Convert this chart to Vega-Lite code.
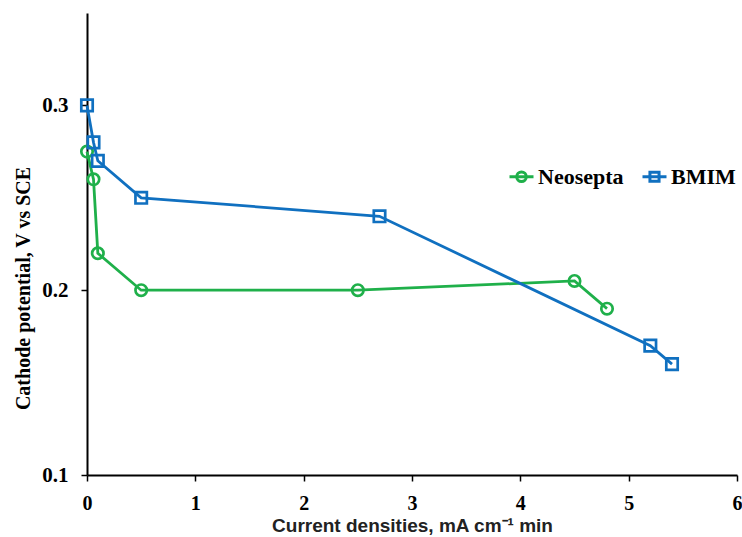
{
  "$schema": "https://vega.github.io/schema/vega-lite/v6.json",
  "width": 650,
  "height": 462,
  "autosize": {"type": "none"},
  "padding": {"left": 87, "top": 13, "right": 5, "bottom": 62},
  "background": "white",
  "config": {"view": {"stroke": null}, "font": "Liberation Serif"},
  "data": {
    "values": [
      {"series": "Neosepta", "x": 0, "y": 0.275},
      {"series": "Neosepta", "x": 0.06, "y": 0.26},
      {"series": "Neosepta", "x": 0.1, "y": 0.22},
      {"series": "Neosepta", "x": 0.5, "y": 0.2},
      {"series": "Neosepta", "x": 2.5, "y": 0.2},
      {"series": "Neosepta", "x": 4.5, "y": 0.205},
      {"series": "Neosepta", "x": 4.8, "y": 0.19},
      {"series": "BMIM", "x": 0, "y": 0.3},
      {"series": "BMIM", "x": 0.06, "y": 0.28},
      {"series": "BMIM", "x": 0.1, "y": 0.27},
      {"series": "BMIM", "x": 0.5, "y": 0.25},
      {"series": "BMIM", "x": 2.7, "y": 0.24},
      {"series": "BMIM", "x": 5.2, "y": 0.17},
      {"series": "BMIM", "x": 5.4, "y": 0.16}
    ]
  },
  "encoding": {
    "x": {
      "field": "x", "type": "quantitative",
      "scale": {"domain": [0, 6], "nice": false, "zero": false},
      "axis": {
        "values": [0, 1, 2, 3, 4, 5, 6], "grid": false, "labelFlush": false,
        "domainColor": "black", "domainWidth": 2,
        "tickColor": "black", "tickWidth": 1.5, "tickSize": 6,
        "labelFont": "Liberation Serif", "labelFontWeight": "bold", "labelFontSize": 20, "labelColor": "black",
        "labelPadding": 12,
        "title": "Current densities, mA cm⁻¹ min",
        "titleFont": "Liberation Sans", "titleFontWeight": "bold", "titleFontSize": 19, "titleColor": "#222222",
        "titleBaseline": "alphabetic", "titleY": 56
      }
    },
    "y": {
      "field": "y", "type": "quantitative",
      "scale": {"domain": [0.1, 0.35], "nice": false, "zero": false},
      "axis": {
        "values": [0.1, 0.2, 0.3], "format": ".1f", "grid": false,
        "domainColor": "black", "domainWidth": 2,
        "tickColor": "black", "tickWidth": 1.5, "tickSize": 6,
        "labelFont": "Liberation Serif", "labelFontWeight": "bold", "labelFontSize": 21, "labelColor": "black",
        "labelPadding": 13,
        "title": "Cathode potential, V vs SCE",
        "titleFont": "Liberation Serif", "titleFontWeight": "bold", "titleFontSize": 20, "titleColor": "black",
        "titleX": -54, "titleY": 275, "titleAlign": "center", "titleBaseline": "bottom"
      }
    }
  },
  "layer": [
    {
      "mark": {"type": "line", "strokeWidth": 2.8},
      "encoding": {
        "color": {"field": "series", "type": "nominal",
          "scale": {"domain": ["Neosepta", "BMIM"], "range": ["#1FB04A", "#1070C0"]}, "legend": null},
        "order": {"field": "x", "type": "quantitative"}
      }
    },
    {
      "mark": {"type": "point", "filled": false, "strokeWidth": 2.7, "opacity": 1},
      "encoding": {
        "color": {"field": "series", "type": "nominal",
          "scale": {"domain": ["Neosepta", "BMIM"], "range": ["#1FB04A", "#1070C0"]}, "legend": null},
        "shape": {"field": "series", "type": "nominal",
          "scale": {"domain": ["Neosepta", "BMIM"], "range": ["circle", "square"]}, "legend": null},
        "size": {"field": "series", "type": "nominal",
          "scale": {"domain": ["Neosepta", "BMIM"], "range": [130, 130]}, "legend": null}
      }
    },
    {
      "transform": [{"filter": "false"}],
      "mark": {"type": "point", "filled": false, "strokeWidth": 3, "size": 576, "opacity": 1},
      "encoding": {
        "x": {"field": "x", "type": "quantitative"},
        "y": {"field": "y", "type": "quantitative"},
        "color": {"field": "series", "type": "nominal",
          "scale": {"domain": ["Neosepta", "BMIM"], "range": ["#1FB04A", "#1070C0"]},
          "legend": {
            "title": null, "orient": "none", "legendX": 421, "legendY": 150, "direction": "horizontal",
            "labelFont": "Liberation Serif", "labelFontWeight": "bold", "labelFontSize": 22, "labelColor": "black",
            "symbolSize": 576, "symbolStrokeWidth": 3, "symbolOpacity": 1, "columnPadding": 12, "labelOffset": 3, "padding": 0
          }},
        "shape": {"field": "series", "type": "nominal",
          "scale": {"domain": ["Neosepta", "BMIM"],
            "range": ["M-1,0H1M-0.4,0A0.4,0.4,0,1,1,0.4,0A0.4,0.4,0,1,1,-0.4,0Z", "M-1,0H1M-0.38,-0.38H0.38V0.38H-0.38Z"]},
          "legend": {
            "title": null, "orient": "none", "legendX": 421, "legendY": 150, "direction": "horizontal",
            "labelFont": "Liberation Serif", "labelFontWeight": "bold", "labelFontSize": 22, "labelColor": "black",
            "symbolSize": 576, "symbolStrokeWidth": 3, "symbolOpacity": 1, "columnPadding": 12, "labelOffset": 3, "padding": 0
          }}
      }
    }
  ],
  "resolve": {"scale": {"color": "independent", "shape": "independent", "size": "independent"}}
}
